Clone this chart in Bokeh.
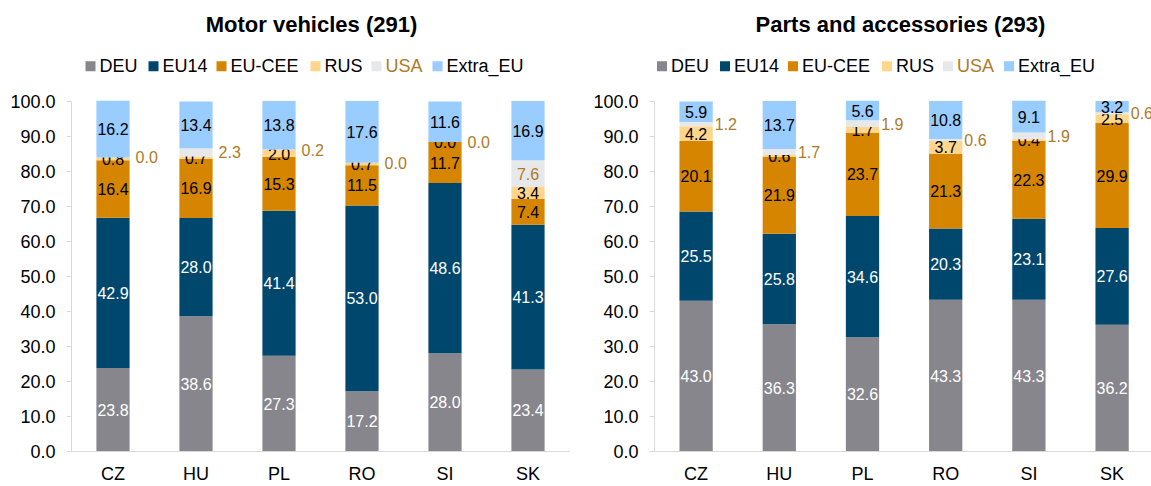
import numpy as np
from bokeh.plotting import figure
from bokeh.layouts import row
from bokeh.models import Range1d, FixedTicker, PrintfTickFormatter
from bokeh.core.properties import value
from bokeh.embed import file_html
from bokeh.resources import INLINE

countries = ["CZ", "HU", "PL", "RO", "SI", "SK"]
series = ["DEU", "EU14", "EU-CEE", "RUS", "USA", "Extra_EU"]

# Motor vehicles (291)
mv_deu = [23.8, 38.6, 27.3, 17.2, 28.0, 23.4]
mv_eu14 = [42.9, 28.0, 41.4, 53.0, 48.6, 41.3]
mv_eucee = [16.4, 16.9, 15.3, 11.5, 11.7, 7.4]
mv_rus = [0.8, 0.7, 2.0, 0.7, 0.0, 3.4]
mv_usa = [0.0, 2.3, 0.2, 0.0, 0.0, 7.6]
mv_extra = [16.2, 13.4, 13.8, 17.6, 11.6, 16.9]

# Parts and accessories (293)
pa_deu = [43.0, 36.3, 32.6, 43.3, 43.3, 36.2]
pa_eu14 = [25.5, 25.8, 34.6, 20.3, 23.1, 27.6]
pa_eucee = [20.1, 21.9, 23.7, 21.3, 22.3, 29.9]
pa_rus = [4.2, 0.6, 1.7, 3.7, 0.4, 2.5]
pa_usa = [1.2, 1.7, 1.9, 0.6, 1.9, 0.6]
pa_extra = [5.9, 13.7, 5.6, 10.8, 9.1, 3.2]

y_ticks = [0, 10, 20, 30, 40, 50, 60, 70, 80, 90, 100]

colors = ["#87868c", "#00476e", "#d58500", "#ffd68c", "#e7e8e9", "#99ccff"]
label_colors = ["white", "white", "black", "black", "#ae7a28", "black"]
legend_text_colors = ["black", "black", "black", "black", "#ae7a28", "black"]

FONT = value("Liberation Sans")
Y_TOP = 128.69
LEGEND_Y = 109.94
TITLE_Y = 121.9
legend_steps = [0, 63, 131, 225, 286, 347]


def make_chart(title, data, fig_w, bl, br, frame_w, ppu, legend_start, title_px, out_off):
    x_end = 0.5 + frame_w / ppu
    p = figure(width=fig_w, height=486, x_range=Range1d(0.5, x_end),
               y_range=Range1d(0, Y_TOP), output_backend="svg",
               toolbar_location=None, title=None,
               min_border_left=bl, min_border_right=br,
               min_border_top=0, min_border_bottom=33)
    p.outline_line_color = None
    p.xgrid.visible = False
    p.ygrid.visible = False
    p.background_fill_color = "white"
    p.border_fill_color = "white"

    xs = np.arange(1, 7, dtype=float)
    bottom = np.zeros(6)
    for i, vals in enumerate(data):
        v = np.array(vals, dtype=float)
        top = bottom + v
        p.vbar(x=xs, width=0.4, bottom=bottom, top=top,
               fill_color=colors[i], line_color=None)
        mid = (bottom + top) / 2
        texts = ["%.1f" % a for a in v]
        if series[i] == "USA":
            inside = v > 3
            if inside.any():
                p.text(x=xs[inside], y=mid[inside],
                       text=[t for t, f in zip(texts, inside) if f],
                       text_align="center", text_baseline="middle",
                       text_font=FONT, text_font_size="16px",
                       text_color=label_colors[i])
            out = ~inside
            if out.any():
                p.text(x=xs[out] + 0.2, y=mid[out],
                       text=[t for t, f in zip(texts, out) if f],
                       x_offset=out_off, text_align="left", text_baseline="middle",
                       text_font=FONT, text_font_size="16px",
                       text_color=label_colors[i])
        else:
            p.text(x=xs, y=mid, text=texts, text_align="center",
                   text_baseline="middle", text_font=FONT,
                   text_font_size="16px", text_color=label_colors[i])
        bottom = top

    # legend
    for i, name in enumerate(series):
        sx = 0.5 + (legend_start + legend_steps[i]) / ppu
        p.scatter(x=[sx], y=[LEGEND_Y], marker="square", size=10,
                  fill_color=colors[i], line_color=None)
        p.text(x=[sx], y=[LEGEND_Y], text=[name], x_offset=9,
               text_align="left", text_baseline="middle", text_font=FONT,
               text_font_size="18px", text_color=legend_text_colors[i])

    # title
    p.text(x=[0.5 + title_px / ppu], y=[TITLE_Y], text=[title],
           text_align="center", text_baseline="middle", text_font=FONT,
           text_font_size="22px", text_font_style="bold", text_color="black")

    # axes
    p.yaxis.bounds = (0, 100)
    p.yaxis.ticker = FixedTicker(ticks=y_ticks)
    p.yaxis.formatter = PrintfTickFormatter(format="%.1f")
    p.yaxis.major_tick_out = 5
    p.yaxis.major_tick_in = 0
    p.yaxis.minor_tick_line_color = None
    p.yaxis.axis_line_color = "#d9d9d9"
    p.yaxis.major_tick_line_color = "#d9d9d9"
    p.yaxis.major_label_standoff = 11
    p.yaxis.major_label_text_font = "Liberation Sans"
    p.yaxis.major_label_text_font_size = "18px"
    p.yaxis.major_label_text_color = "black"

    p.xaxis.ticker = FixedTicker(ticks=[1, 2, 3, 4, 5, 6])
    p.xaxis.major_label_overrides = {i + 1: c for i, c in enumerate(countries)}
    p.xaxis.major_tick_line_color = None
    p.xaxis.major_tick_out = 0
    p.xaxis.major_tick_in = 0
    p.xaxis.minor_tick_line_color = None
    p.xaxis.axis_line_color = "#d9d9d9"
    p.xaxis.major_label_standoff = 12
    p.xaxis.major_label_text_font = "Liberation Sans"
    p.xaxis.major_label_text_font_size = "18px"
    p.xaxis.major_label_text_color = "black"
    return p


mv = [mv_deu, mv_eu14, mv_eucee, mv_rus, mv_usa, mv_extra]
pa = [pa_deu, pa_eu14, pa_eucee, pa_rus, pa_usa, pa_extra]

p1 = make_chart("Motor vehicles (291)", mv, 590, 71, 21, 498, 83.0, 19, 240, 6)
p2 = make_chart("Parts and accessories (293)", pa, 561, 64, 0, 497, 83.2, 7.5, 246, 2)

layout = row(p1, p2)
open("out.html", "w").write(file_html(layout, INLINE))
